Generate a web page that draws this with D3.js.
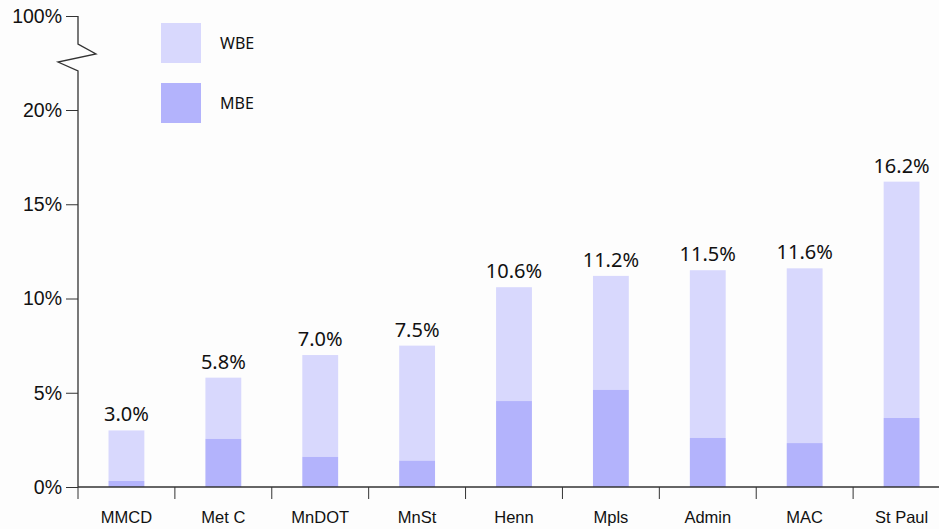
<!DOCTYPE html>
<html lang="en">
<head>
  <meta charset="UTF-8">
  <title>WBE / MBE</title>
  <style>
    body { margin: 0; background: #fdfdfd; }
    svg { display: block; font-family: "Noto Sans", "Open Sans", sans-serif; }
  </style>
</head>
<body>
  <svg width="939" height="529"></svg>

  <script src="https://cdn.jsdelivr.net/npm/d3@7/dist/d3.min.js"></script>
  <script>
    // data
    const agencies = ["MMCD", "Met C", "MnDOT", "MnSt", "Henn", "Mpls", "Admin", "MAC", "St Paul"];
    const totals   = [3.0, 5.8, 7.0, 7.5, 10.6, 11.2, 11.5, 11.6, 16.2];
    const mbe      = [0.32, 2.55, 1.6, 1.4, 4.56, 5.15, 2.6, 2.33, 3.66];
    const yTicks   = [0, 5, 10, 15, 20, 100];
    const legendKeys = ["WBE", "MBE"];

    const colors = { WBE: "#d8d8fd", MBE: "#b3b3fc" };

    const svg = d3.select("svg");

    const x = d3.scaleBand()
      .domain(agencies)
      .range([78, 950])
      .paddingInner(0.63)
      .paddingOuter(0.315);

    // broken axis: 0-20 linear, then a jump to 100
    const y = d3.scaleLinear()
      .domain([0, 20, 100])
      .range([487, 110, 16]);

    const rows = agencies.map((a, i) => ({ name: a, total: totals[i], mbe: mbe[i] }));

    // bars: WBE part on top of MBE part
    const g = svg.append("g");
    g.selectAll("rect.wbe")
      .data(rows)
      .enter().append("rect")
        .attr("class", "wbe")
        .attr("x", d => x(d.name))
        .attr("width", x.bandwidth())
        .attr("y", d => y(d.total))
        .attr("height", d => y(d.mbe) - y(d.total))
        .attr("fill", colors.WBE);

    g.selectAll("rect.mbe")
      .data(rows)
      .enter().append("rect")
        .attr("class", "mbe")
        .attr("x", d => x(d.name))
        .attr("width", x.bandwidth())
        .attr("y", d => y(d.mbe))
        .attr("height", d => y(0) - y(d.mbe))
        .attr("fill", colors.MBE);

    // totals above bars
    g.selectAll("text.val")
      .data(rows)
      .enter().append("text")
        .attr("class", "val")
        .attr("x", d => x(d.name) + x.bandwidth() / 2)
        .attr("y", d => y(d.total) - 9)
        .attr("text-anchor", "middle")
        .attr("font-size", 20)
        .attr("fill", "#111")
        .text(d => d.total.toFixed(1) + "%");

    // y axis ticks + labels
    const yAxis = svg.append("g")
      .attr("transform", "translate(78,0)")
      .call(d3.axisLeft(y).tickValues(yTicks).tickSize(12).tickPadding(4).tickFormat(d => d + "%"));
    yAxis.select(".domain").remove();
    yAxis.selectAll("line").attr("stroke", "#333");
    yAxis.selectAll("text").attr("font-size", 19.5).attr("fill", "#111").attr("font-family", null);

    // axis line with the break zigzag
    const ax = 78;
    svg.append("path")
      .attr("d", d3.line()([[ax, y(100)], [ax, 44], [96, 54], [58, 62], [ax, 71], [ax, y(0)]]))
      .attr("fill", "none")
      .attr("stroke", "#333")
      .attr("stroke-width", 1.3);

    // x axis
    const xAxis = svg.append("g")
      .attr("transform", `translate(0,${y(0)})`)
      .call(d3.axisBottom(x).tickSize(0).tickPadding(0));
    xAxis.select(".domain").remove();
    xAxis.selectAll("text")
      .attr("dy", null)
      .attr("y", 36)
      .attr("font-size", 16.5)
      .attr("fill", "#111")
      .attr("font-family", null);

    svg.append("line")
      .attr("x1", ax).attr("x2", 939)
      .attr("y1", y(0)).attr("y2", y(0))
      .attr("stroke", "#333").attr("stroke-width", 1.3);

    // tick marks between categories
    const step = x.step();
    svg.append("g").selectAll("line")
      .data(d3.range(agencies.length))
      .enter().append("line")
        .attr("x1", i => x(agencies[0]) - x.paddingOuter() * step + i * step)
        .attr("x2", i => x(agencies[0]) - x.paddingOuter() * step + i * step)
        .attr("y1", y(0))
        .attr("y2", y(0) + 12)
        .attr("stroke", "#333");

    // legend
    const lg = svg.append("g").attr("transform", "translate(161,23)");
    legendKeys.forEach((k, i) => {
      lg.append("rect")
        .attr("x", 0).attr("y", i * 60)
        .attr("width", 40).attr("height", 40)
        .attr("fill", colors[k]);
      lg.append("text")
        .attr("x", 59).attr("y", i * 60 + 20)
        .attr("dy", "0.35em")
        .attr("font-size", 16)
        .attr("fill", "#111")
        .text(k);
    });
  </script>
</body>
</html>
